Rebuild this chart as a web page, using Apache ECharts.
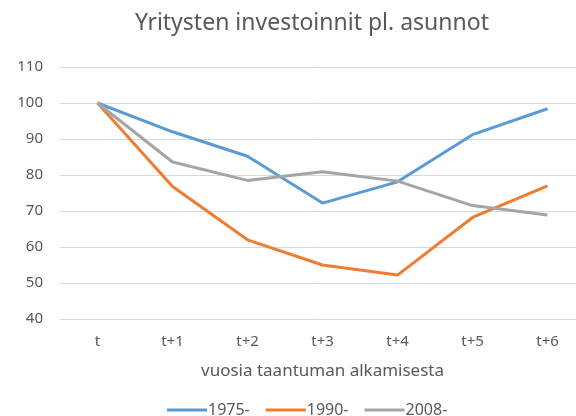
<!DOCTYPE html>
<html>
<head>
<meta charset="utf-8">
<script src="https://cdn.jsdelivr.net/npm/echarts@6/dist/echarts.min.js"></script>
<style>
html, body { margin: 0; padding: 0; background: #fff; }
#chart { width: 576px; height: 416px; }
</style>
</head>
<body>
<div id="chart"></div>
<script>
var categories = ['t', 't+1', 't+2', 't+3', 't+4', 't+5', 't+6'];
var s1975 = [100, 92.0, 85.2, 72.2, 78.1, 91.2, 98.4];
var s1990 = [100, 76.8, 62.0, 55.0, 52.2, 68.2, 77.0];
var s2008 = [100, 83.6, 78.5, 80.9, 78.3, 71.5, 68.9];

var font = 'Noto Sans';
var txt = '#595959';

var myChart = echarts.init(document.getElementById('chart'));
// 图表配置
var option = {
    animation: false,
    title: {
        text: 'Yritysten investoinnit pl. asunnot',
        left: 307,
        textAlign: 'center',
        top: 7,
        textStyle: { fontFamily: font, fontSize: 23, fontWeight: 'normal', color: txt }
    },
    legend: {
        left: 162,
        top: 397,
        itemWidth: 40,
        itemHeight: 3,
        itemGap: 16,
        textStyle: { fontFamily: font, fontSize: 16, color: txt, padding: [0, 0, 0, -4] },
        icon: 'rect',
        data: ['1975-', '1990-', '2008-']
    },
    grid: {
        left: 60,
        top: 67,
        width: 525,
        height: 252,
        outerBoundsMode: 'none'
    },
    xAxis: {
        type: 'category',
        data: categories,
        boundaryGap: true,
        name: 'vuosia taantuman alkamisesta',
        nameLocation: 'middle',
        nameGap: 44,
        nameTextStyle: { fontFamily: font, fontSize: 17, color: txt },
        axisLine: { show: false },
        axisTick: { show: false },
        axisLabel: { fontFamily: font, fontSize: 15, color: txt, margin: 15 }
    },
    yAxis: {
        type: 'value',
        min: 40,
        max: 110,
        interval: 10,
        axisLine: { show: false },
        axisTick: { show: false },
        axisLabel: { fontFamily: font, fontSize: 15, color: txt, margin: 17 },
        splitLine: { lineStyle: { color: '#d9d9d9', width: 1 } }
    },
    series: [
        {
            name: '1975-',
            type: 'line',
            data: s1975,
            symbol: 'none',
            color: '#5B9BD5',
            lineStyle: { width: 3 }
        },
        {
            name: '1990-',
            type: 'line',
            data: s1990,
            symbol: 'none',
            color: '#ED7D31',
            lineStyle: { width: 3 }
        },
        {
            name: '2008-',
            type: 'line',
            data: s2008,
            symbol: 'none',
            color: '#A5A5A5',
            lineStyle: { width: 3 }
        }
    ]
};
myChart.setOption(option);
</script>
</body>
</html>
